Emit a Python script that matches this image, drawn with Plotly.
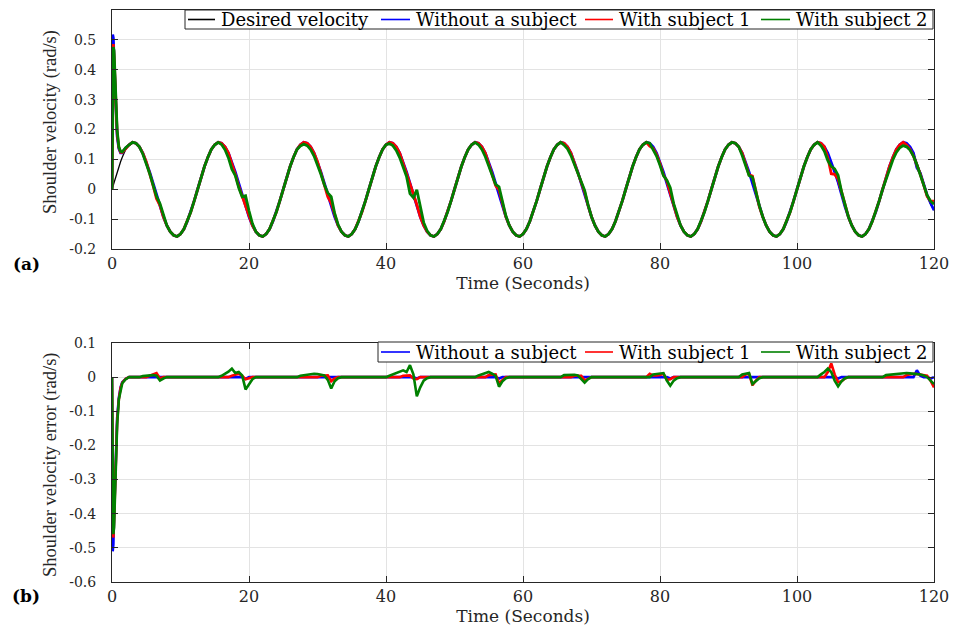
import numpy as np
import plotly.graph_objects as go

# ---------------------------------------------------------------------------
# Sample times: fine steps through the start-up transient, then every 0.5 s
# ---------------------------------------------------------------------------
T_START = [0.0, 0.1, 0.2, 0.3, 0.5, 0.75, 1.0, 1.25, 1.5, 2.0]
T_MAIN = [round(v, 2) for v in np.arange(2.5, 120.0001, 0.5)]
TIME = T_START + T_MAIN

# Desired shoulder velocity (rad/s)
DESIRED_START = [0.000, 0.008, 0.016, 0.024, 0.039, 0.058, 0.076, 0.092, 0.107, 0.133]
DESIRED_MAIN = [
    # 2.5 s .. 12.0 s
    0.149, 0.157, 0.154, 0.142, 0.121, 0.092, 0.058, 0.020, -0.020, -0.058,
    -0.092, -0.121, -0.142, -0.154, -0.158, -0.150, -0.133, -0.107, -0.076, -0.039,
    # 12.5 s .. 24.5 s
    0.000, 0.039, 0.076, 0.107, 0.133, 0.149, 0.157, 0.154, 0.142, 0.121, 0.092, 0.058, 0.020,
    -0.020, -0.058, -0.092, -0.121, -0.142, -0.154, -0.158, -0.150, -0.133, -0.107, -0.076, -0.039,
    # 25.0 s .. 37.0 s
    0.000, 0.039, 0.076, 0.107, 0.133, 0.149, 0.157, 0.154, 0.142, 0.121, 0.092, 0.058, 0.020,
    -0.020, -0.058, -0.092, -0.121, -0.142, -0.154, -0.158, -0.150, -0.133, -0.107, -0.076, -0.039,
    # 37.5 s .. 49.5 s
    0.000, 0.039, 0.076, 0.107, 0.133, 0.149, 0.157, 0.154, 0.142, 0.121, 0.092, 0.058, 0.020,
    -0.020, -0.058, -0.092, -0.121, -0.142, -0.154, -0.158, -0.150, -0.133, -0.107, -0.076, -0.039,
    # 50.0 s .. 62.0 s
    0.000, 0.039, 0.076, 0.107, 0.133, 0.149, 0.157, 0.154, 0.142, 0.121, 0.092, 0.058, 0.020,
    -0.020, -0.058, -0.092, -0.121, -0.142, -0.154, -0.158, -0.150, -0.133, -0.107, -0.076, -0.039,
    # 62.5 s .. 74.5 s
    0.000, 0.039, 0.076, 0.107, 0.133, 0.149, 0.157, 0.154, 0.142, 0.121, 0.092, 0.058, 0.020,
    -0.020, -0.058, -0.092, -0.121, -0.142, -0.154, -0.158, -0.150, -0.133, -0.107, -0.076, -0.039,
    # 75.0 s .. 87.0 s
    0.000, 0.039, 0.076, 0.107, 0.133, 0.149, 0.157, 0.154, 0.142, 0.121, 0.092, 0.058, 0.020,
    -0.020, -0.058, -0.092, -0.121, -0.142, -0.154, -0.158, -0.150, -0.133, -0.107, -0.076, -0.039,
    # 87.5 s .. 99.5 s
    0.000, 0.039, 0.076, 0.107, 0.133, 0.149, 0.157, 0.154, 0.142, 0.121, 0.092, 0.058, 0.020,
    -0.020, -0.058, -0.092, -0.121, -0.142, -0.154, -0.158, -0.150, -0.133, -0.107, -0.076, -0.039,
    # 100.0 s .. 112.0 s
    0.000, 0.039, 0.076, 0.107, 0.133, 0.149, 0.157, 0.154, 0.142, 0.121, 0.092, 0.058, 0.020,
    -0.020, -0.058, -0.092, -0.121, -0.142, -0.154, -0.158, -0.150, -0.133, -0.107, -0.076, -0.039,
    # 112.5 s .. 120.0 s
    0.000, 0.039, 0.076, 0.107, 0.133, 0.149, 0.157, 0.154, 0.142, 0.121, 0.092, 0.058, 0.020,
    -0.020, -0.050, -0.070,
]
DESIRED = DESIRED_START + DESIRED_MAIN
assert len(DESIRED) == len(TIME)

# Tracking error (desired - measured), rad/s; listed where it departs from zero
ERR_WITHOUT = [
    (0.1, -0.51), (0.2, -0.49), (0.3, -0.41), (0.5, -0.26), (0.75, -0.12),
    (1.0, -0.06), (1.25, -0.03), (1.5, -0.015), (2.0, -0.005),
    (19.5, -0.005), (44.5, -0.004), (56.5, -0.004), (81.5, -0.004),
    (106.0, -0.004), (117.5, 0.02), (118.0, 0.004), (119.5, -0.004),
]
ERR_SUBJECT1 = [
    (0.1, -0.44), (0.2, -0.47), (0.3, -0.42), (0.5, -0.27), (0.75, -0.13),
    (1.0, -0.065), (1.25, -0.032), (1.5, -0.016), (2.0, -0.005),
    (5.5, 0.004), (6.0, 0.008), (6.5, 0.012), (7.0, -0.004),
    (17.5, 0.004), (18.0, 0.008), (18.5, 0.01), (19.0, 0.004), (19.5, -0.006), (20.0, -0.003),
    (30.5, 0.004), (31.0, 0.005), (31.5, 0.005), (32.0, -0.012), (32.5, -0.004),
    (42.5, 0.004), (43.0, 0.005), (43.5, 0.005), (44.0, -0.004), (44.5, -0.006),
    (55.0, 0.006), (55.5, 0.007), (56.0, 0.008), (56.5, -0.018), (57.0, -0.008),
    (67.5, 0.004), (68.0, 0.004), (68.5, 0.004), (69.0, -0.01), (69.5, -0.004),
    (78.5, 0.01), (79.0, 0.005), (79.5, 0.005), (80.0, 0.006), (80.5, 0.01), (81.0, -0.008), (81.5, -0.006),
    (92.5, 0.008), (93.0, 0.01), (93.5, -0.024), (94.0, -0.01),
    (104.5, 0.015), (105.0, 0.04), (105.5, 0.008), (106.0, -0.015), (106.5, -0.012), (107.0, -0.004),
    (116.0, 0.006), (116.5, 0.008), (117.0, 0.01), (117.5, 0.009), (118.0, 0.008), (118.5, 0.006),
    (119.0, 0.004), (119.5, -0.01), (120.0, -0.03),
]
ERR_SUBJECT2 = [
    (0.1, -0.40), (0.2, -0.46), (0.3, -0.44), (0.5, -0.30), (0.75, -0.14),
    (1.0, -0.065), (1.25, -0.035), (1.5, -0.018), (2.0, -0.006),
    (4.5, 0.003), (5.0, 0.004), (5.5, 0.005), (6.0, 0.006), (6.5, 0.004), (7.0, -0.01), (7.5, -0.004),
    (16.0, 0.004), (16.5, 0.01), (17.0, 0.016), (17.5, 0.025), (18.0, 0.012), (18.5, 0.015),
    (19.0, 0.005), (19.5, -0.036), (20.0, -0.02), (20.5, -0.006),
    (27.5, 0.004), (28.0, 0.006), (28.5, 0.008), (29.0, 0.009), (29.5, 0.01), (30.0, 0.009),
    (30.5, 0.008), (31.0, 0.005), (31.5, -0.008), (32.0, -0.033), (32.5, -0.012), (33.0, -0.003),
    (40.5, 0.004), (41.0, 0.008), (41.5, 0.012), (42.0, 0.015), (42.5, 0.02), (43.0, 0.015),
    (43.5, 0.035), (44.0, 0.008), (44.5, -0.056), (45.0, -0.03), (45.5, -0.01), (46.0, -0.003),
    (53.5, 0.005), (54.0, 0.009), (54.5, 0.012), (55.0, 0.015), (55.5, 0.01), (56.0, 0.004),
    (56.5, -0.028), (57.0, -0.012), (57.5, -0.003),
    (66.0, 0.006), (66.5, 0.007), (67.0, 0.008), (67.5, 0.007), (68.0, 0.005), (68.5, -0.005),
    (69.0, -0.016), (69.5, -0.006),
    (79.0, 0.008), (79.5, 0.01), (80.0, 0.012), (80.5, 0.012), (81.0, -0.01), (81.5, -0.025),
    (82.0, -0.01), (82.5, -0.003),
    (92.0, 0.008), (92.5, 0.01), (93.0, 0.012), (93.5, -0.02), (94.0, -0.01), (94.5, -0.003),
    (103.5, 0.008), (104.0, 0.015), (104.5, 0.025), (105.0, 0.015), (105.5, -0.01), (106.0, -0.027),
    (106.5, -0.012), (107.0, -0.003),
    (113.0, 0.006), (113.5, 0.007), (114.0, 0.008), (114.5, 0.01), (115.0, 0.01), (115.5, 0.011),
    (116.0, 0.012), (116.5, 0.011), (117.0, 0.01), (117.5, 0.01), (118.0, 0.008), (118.5, 0.005),
    (119.5, -0.01), (120.0, -0.02),
]

X_TICKS = [0, 20, 40, 60, 80, 100, 120]
Y1_TICKS = [-0.2, -0.1, 0, 0.1, 0.2, 0.3, 0.4, 0.5]
Y1_LABELS = ["-0.2", "-0.1", "0", "0.1", "0.2", "0.3", "0.4", "0.5"]
Y2_TICKS = [-0.6, -0.5, -0.4, -0.3, -0.2, -0.1, 0, 0.1]
Y2_LABELS = ["-0.6", "-0.5", "-0.4", "-0.3", "-0.2", "-0.1", "0", "0.1"]

DESIRED_NAME = "Desired velocity"
SERIES = [
    ("Without a subject", ERR_WITHOUT, "#0000ff"),
    ("With subject 1", ERR_SUBJECT1, "#ff0000"),
    ("With subject 2", ERR_SUBJECT2, "#008000"),
]

# ---------------------------------------------------------------------------
W, H = 954, 628
t = np.array(TIME)
desired = np.array(DESIRED)
index_of = {round(v, 2): i for i, v in enumerate(TIME)}


def error_series(pairs):
    e = np.zeros(len(TIME))
    for tt, val in pairs:
        e[index_of[round(tt, 2)]] = val
    return e


def px_x(v):
    return v / W


def px_y(v):
    return 1 - v / H


INK = "#262626"
GRID = "#e3e3e3"
SERIF = "DejaVu Serif"

fig = go.Figure()

# (a) velocities
fig.add_trace(go.Scatter(x=t, y=desired, mode="lines", name=DESIRED_NAME,
                         line=dict(color="#000000", width=1.3),
                         xaxis="x", yaxis="y", showlegend=False))
for name, pairs, color in SERIES:
    err = error_series(pairs)
    fig.add_trace(go.Scatter(x=t, y=desired - err, mode="lines", name=name,
                             line=dict(color=color, width=2.8),
                             xaxis="x", yaxis="y", showlegend=False))

# (b) velocity errors
for name, pairs, color in SERIES:
    err = error_series(pairs)
    fig.add_trace(go.Scatter(x=t, y=err, mode="lines", name=name,
                             line=dict(color=color, width=2.6),
                             xaxis="x2", yaxis="y2", showlegend=False))

# ---------------------------------------------------------------------------
# Compact boxed legends (one row each), laid out in pixels of the page
# ---------------------------------------------------------------------------
LEGEND_SLOTS = [(188, 215, 219), (381, 410, 414), (585, 613, 617), (761, 790, 794)]
legend_rows = [
    # (box left, box top, box bottom, entries)
    (185, 10, 29, [(DESIRED_NAME, "#000000")] + [(n, c) for n, _, c in SERIES], LEGEND_SLOTS),
    (378, 342, 362, [(n, c) for n, _, c in SERIES], LEGEND_SLOTS[1:]),
]

shapes = []
annotations = []
for left, top, bottom, entries, slots in legend_rows:
    shapes.append(dict(type="rect", xref="paper", yref="paper",
                       x0=px_x(left), x1=px_x(933), y0=px_y(bottom), y1=px_y(top),
                       fillcolor="#ffffff", line=dict(color=INK, width=1), layer="above"))
    mid = (top + bottom) / 2
    for (name, color), (l0, l1, tx) in zip(entries, slots):
        shapes.append(dict(type="line", xref="paper", yref="paper",
                           x0=px_x(l0), x1=px_x(l1), y0=px_y(mid), y1=px_y(mid),
                           line=dict(color=color, width=1.6), layer="above"))
        annotations.append(dict(text=name, showarrow=False, xref="paper", yref="paper",
                                x=px_x(tx), y=px_y(mid + 0.5), xanchor="left", yanchor="middle",
                                font=dict(family=SERIF, size=18, color="#000000")))

annotations += [
    dict(text="Shoulder velocity (rad/s)", textangle=-90, showarrow=False,
         xref="paper", yref="paper", x=px_x(50), y=px_y(122),
         xanchor="center", yanchor="middle",
         font=dict(family="Liberation Serif", size=18.5, color=INK)),
    dict(text="Shoulder velocity error (rad/s)", textangle=-90, showarrow=False,
         xref="paper", yref="paper", x=px_x(50), y=px_y(465),
         xanchor="center", yanchor="middle",
         font=dict(family="Liberation Serif", size=18.5, color=INK)),
    dict(text="<b>(a)</b>", showarrow=False, xref="paper", yref="paper",
         x=px_x(26), y=px_y(264), xanchor="center", yanchor="middle",
         font=dict(family=SERIF, size=17, color="#000000")),
    dict(text="<b>(b)</b>", showarrow=False, xref="paper", yref="paper",
         x=px_x(26), y=px_y(596), xanchor="center", yanchor="middle",
         font=dict(family=SERIF, size=17, color="#000000")),
]

X_DOMAIN = [px_x(112), px_x(934)]

common_x = dict(
    range=[0, 120], tickvals=X_TICKS, ticktext=[str(v) for v in X_TICKS],
    showgrid=True, gridcolor=GRID, gridwidth=1, zeroline=False,
    showline=True, linecolor=INK, linewidth=1, mirror="ticks",
    ticks="inside", ticklen=6, tickcolor=INK, ticklabelstandoff=0,
    tickfont=dict(family=SERIF, size=16, color=INK),
    title=dict(text="Time (Seconds)", font=dict(family=SERIF, size=17, color=INK), standoff=0),
    domain=X_DOMAIN, automargin=False,
)
common_y = dict(
    showgrid=True, gridcolor=GRID, gridwidth=1, zeroline=False,
    showline=True, linecolor=INK, linewidth=1, mirror="ticks",
    ticks="inside", ticklen=6, tickcolor=INK, ticklabelstandoff=12,
    tickfont=dict(family=SERIF, size=14, color=INK), automargin=False,
)

fig.update_layout(
    width=W, height=H,
    margin=dict(l=0, r=0, t=0, b=0, autoexpand=False),
    paper_bgcolor="#ffffff", plot_bgcolor="#ffffff",
    showlegend=False,
    xaxis=dict(anchor="y", **common_x),
    yaxis=dict(anchor="x", domain=[px_y(249), px_y(10)], range=[-0.2, 0.6],
               tickvals=Y1_TICKS, ticktext=Y1_LABELS, **common_y),
    xaxis2=dict(anchor="y2", **common_x),
    yaxis2=dict(anchor="x2", domain=[px_y(582), px_y(343)], range=[-0.6, 0.1],
                tickvals=Y2_TICKS, ticktext=Y2_LABELS, **common_y),
    shapes=shapes,
    annotations=annotations,
)

fig.write_html("out.html")
